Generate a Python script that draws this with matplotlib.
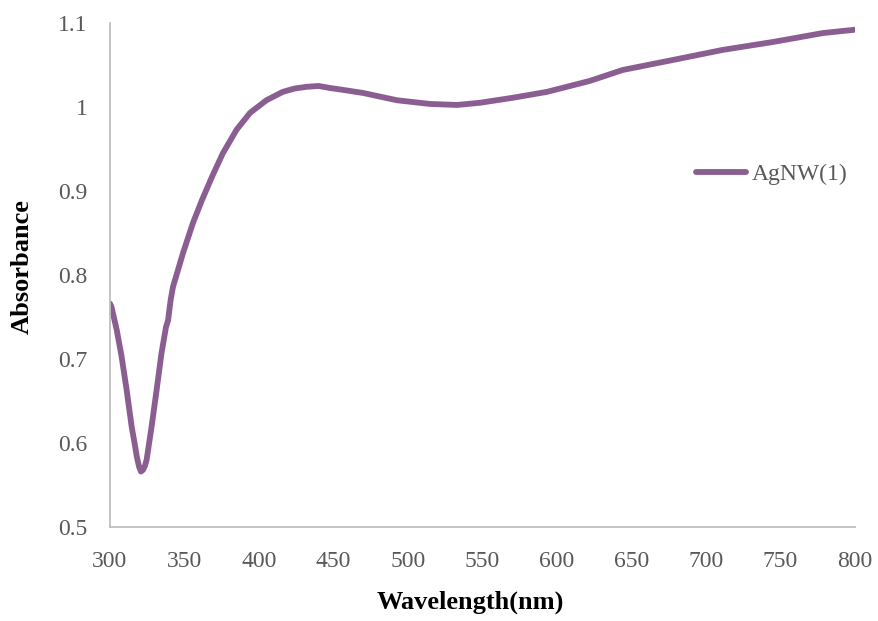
import matplotlib
matplotlib.use("Agg")
import matplotlib.pyplot as plt

wavelength = [300, 301, 304.5, 307.8, 311.2, 314.6, 316.5, 318, 319.5, 320.8, 322.2, 323.5,
              324.6, 327.9, 331.3, 334.6, 337.6, 339, 340.7, 342.3, 345, 349, 355.7, 361.7,
              368.5, 375.8, 385, 394, 405, 416, 424, 432, 440, 447.7, 454, 469.8, 492.6,
              514.8, 532.9, 548.3, 570.5, 593.3, 622, 644, 677.9, 711.4, 745, 778.5, 800]
absorbance = [0.766, 0.762, 0.735, 0.703, 0.663, 0.619, 0.600, 0.584, 0.572, 0.566, 0.568, 0.573,
              0.580, 0.619, 0.663, 0.707, 0.738, 0.746, 0.770, 0.786, 0.802, 0.826, 0.862, 0.889,
              0.917, 0.945, 0.973, 0.993, 1.008, 1.018, 1.022, 1.024, 1.025, 1.0226, 1.021, 1.0167,
              1.008, 1.0036, 1.0024, 1.005, 1.011, 1.018, 1.031, 1.044, 1.056, 1.068, 1.0774,
              1.088, 1.092]
series_name = "AgNW(1)"
xticks = [300, 350, 400, 450, 500, 550, 600, 650, 700, 750, 800]
yticks = [0.5, 0.6, 0.7, 0.8, 0.9, 1.0, 1.1]
ytick_labels = ["0.5", "0.6", "0.7", "0.8", "0.9", "1", "1.1"]

plt.rcParams['font.family'] = ['Liberation Serif', 'DejaVu Serif']

fig = plt.figure(figsize=(8.79, 6.21), dpi=100)
ax = fig.add_axes([0.1251, 0.1514, 0.8476, 0.8116])
ax.plot(wavelength, absorbance, color='#8B5E92', lw=4.2, solid_capstyle='round',
        solid_joinstyle='round', label=series_name)
ax.set_xlim(300, 800)
ax.set_ylim(0.5, 1.1)
ax.set_xticks(xticks)
ax.set_yticks(yticks)
ax.set_yticklabels(ytick_labels)
ax.tick_params(length=0, labelsize=17, labelcolor='#595959')
ax.tick_params(axis='y', pad=16)
ax.tick_params(axis='x', pad=17)
for s in ['top', 'right']:
    ax.spines[s].set_visible(False)
for s in ['left', 'bottom']:
    ax.spines[s].set_color('#BFBFBF')
    ax.spines[s].set_linewidth(1.3)
ax.set_xlabel('Wavelength(nm)', fontsize=19, fontweight='bold')
ax.set_ylabel('Absorbance', fontsize=19, fontweight='bold')
ax.xaxis.set_label_coords(0.483, -0.127)
ax.yaxis.set_label_coords(-0.102, 0.516)
leg = ax.legend(loc='center left', bbox_to_anchor=(0.787, 0.700), frameon=False,
                fontsize=17, handlelength=2.1, handletextpad=0.25, borderpad=0, borderaxespad=0)
for t in leg.get_texts():
    t.set_color('#595959')
fig.savefig('out.png', dpi=100)
